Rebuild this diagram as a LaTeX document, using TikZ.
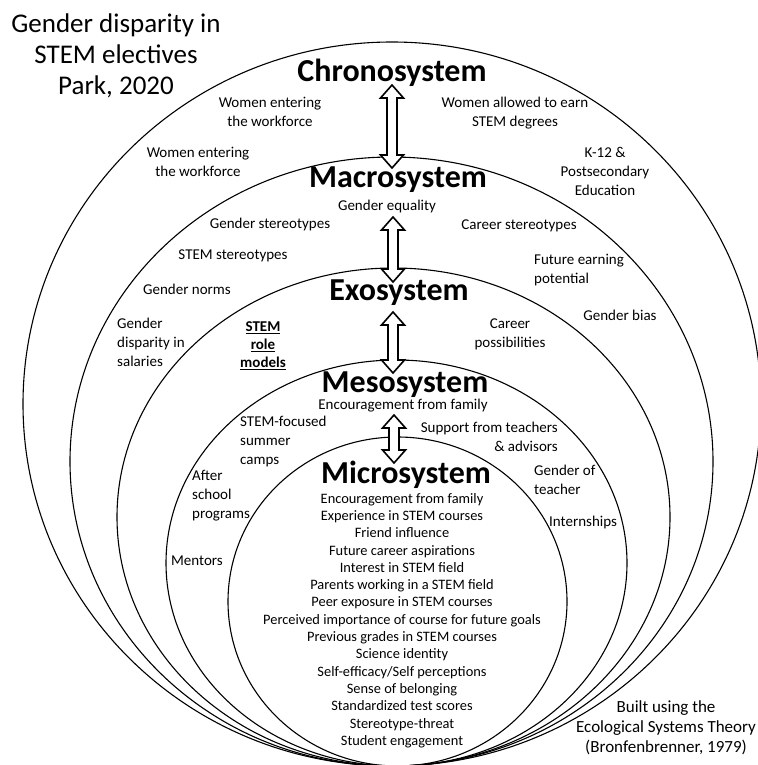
\documentclass[tikz,border=0pt]{standalone}
\usepackage{fontspec}
\setmainfont{Carlito}
\usetikzlibrary{calc}

% hollow two-headed block arrow between two named points (top, bottom)
\newcommand{\blockarr}[2]{%
  \draw[barrow] let \p1=(#1), \p2=(#2) in
    (\x1,\y1) -- (\x1+11.5pt,\y1-13pt) -- (\x1+5pt,\y1-13pt)
    -- (\x1+5pt,\y2+13pt) -- (\x1+11.5pt,\y2+13pt) -- (\x1,\y2)
    -- (\x1-11.5pt,\y2+13pt) -- (\x1-5pt,\y2+13pt)
    -- (\x1-5pt,\y1-13pt) -- (\x1-11.5pt,\y1-13pt) -- cycle;}

\begin{document}
\begin{tikzpicture}[x=1pt,y=-1pt,
  ring/.style={line width=1.1pt},
  barrow/.style={draw, fill=white, line width=1.6pt, line join=miter},
  sysname/.style={font=\bfseries\fontsize{32}{36}\selectfont, inner sep=0pt, anchor=base},
  lbl/.style={font=\fontsize{15}{19}\selectfont, inner sep=0pt, align=center},
  lbll/.style={lbl, align=left, anchor=west},
  factors/.style={font=\fontsize{14.4}{17.3}\selectfont, inner sep=0pt, align=center},
  heading/.style={font=\fontsize{27}{31}\selectfont, inner sep=0pt, align=center},
  credit/.style={font=\fontsize{17}{20}\selectfont, inner sep=0pt, align=center}]
\useasboundingbox (0,0) rectangle (757,765);

% nested systems, all touching at the bottom
\draw[ring] (392,404)   ellipse [x radius=369pt,   y radius=362pt];
\draw[ring] (391.5,461.5) ellipse [x radius=321.5pt, y radius=304.5pt];
\draw[ring] (393.5,517) ellipse [x radius=276.5pt, y radius=249pt];
\draw[ring] (396.5,563) ellipse [x radius=230.5pt, y radius=203pt];
\draw[ring] (397.5,601.5) ellipse [x radius=169.5pt, y radius=164.5pt];

% titles
\node[heading] (title) at (116,56) {Gender disparity in\\STEM electives\\Park, 2020};
\node[credit] (source) at (666,728) {Built using the\\Ecological Systems Theory\\(Bronfenbrenner, 1979)};

% system names
\node[sysname] (chrono) at (392,82)  {Chronosystem};
\node[sysname] (macro)  at (398,187) {Macrosystem};
\node[sysname] (exo)    at (399,300) {Exosystem};
\node[sysname] (meso)   at (405,392) {Mesosystem};
\node[sysname] (micro)  at (406,483) {Microsystem};

% chronosystem
\node[lbl] (chr1) at (270,112) {Women entering\\the workforce};
\node[lbl] (chr2) at (515,113) {Women allowed to earn\\STEM degrees};
\node[lbl] (chr3) at (198,162) {Women entering\\the workforce};
\node[lbl] (chr4) at (605,171) {K-12 \&\\Postsecondary\\Education};

% macrosystem
\node[lbl]  (mac1) at (387,206) {Gender equality};
\node[lbl]  (mac2) at (270,224) {Gender stereotypes};
\node[lbl]  (mac3) at (233,256) {STEM stereotypes};
\node[lbl]  (mac4) at (187,289) {Gender norms};
\node[lbll] (mac5) at (117,342) {Gender\\disparity in\\salaries};
\node[lbl]  (mac6) at (519,226) {Career stereotypes};
\node[lbll] (mac7) at (534,270) {Future earning\\potential};
\node[lbl]  (mac8) at (620,315) {Gender bias};

% exosystem
\node[lbl, font=\bfseries\fontsize{15}{18}\selectfont] (exo1) at (263,346)
  {\underline{STEM}\\\underline{role}\\\underline{models}};
\node[lbl] (exo2) at (510,334) {Career\\possibilities};

% mesosystem
\node[lbl]  (mes1) at (403,406) {Encouragement from family};
\node[lbll] (mes2) at (240,441) {STEM-focused\\summer\\camps};
\node[lbl, align=right, anchor=east] (mes3) at (558,437) {Support from teachers\\\& advisors};
\node[lbll] (mes4) at (192,496) {After\\school\\programs};
\node[lbl]  (mes5) at (197,561) {Mentors};
\node[lbll] (mes6) at (534,480) {Gender of\\teacher};
\node[lbll] (mes7) at (549,522) {Internships};

% microsystem
\node[factors] (mic1) at (402,620.5) {Encouragement from family\\
  Experience in STEM courses\\
  Friend influence\\
  Future career aspirations\\
  Interest in STEM field\\
  Parents working in a STEM field\\
  Peer exposure in STEM courses\\
  Perceived importance of course for future goals\\
  Previous grades in STEM courses\\
  Science identity\\
  Self-efficacy/Self perceptions\\
  Sense of belonging\\
  Standardized test scores\\
  Stereotype-threat\\
  Student engagement};

% links between neighbouring systems
\coordinate (a1t) at (392,85);  \coordinate (a1b) at (392,168);
\coordinate (a2t) at (393,217); \coordinate (a2b) at (393,282);
\coordinate (a3t) at (393,312); \coordinate (a3b) at (393,373);
\coordinate (a4t) at (394,415); \coordinate (a4b) at (394,463);
\blockarr{a1t}{a1b}
\blockarr{a2t}{a2b}
\blockarr{a3t}{a3b}
\blockarr{a4t}{a4b}
\end{tikzpicture}
\end{document}
